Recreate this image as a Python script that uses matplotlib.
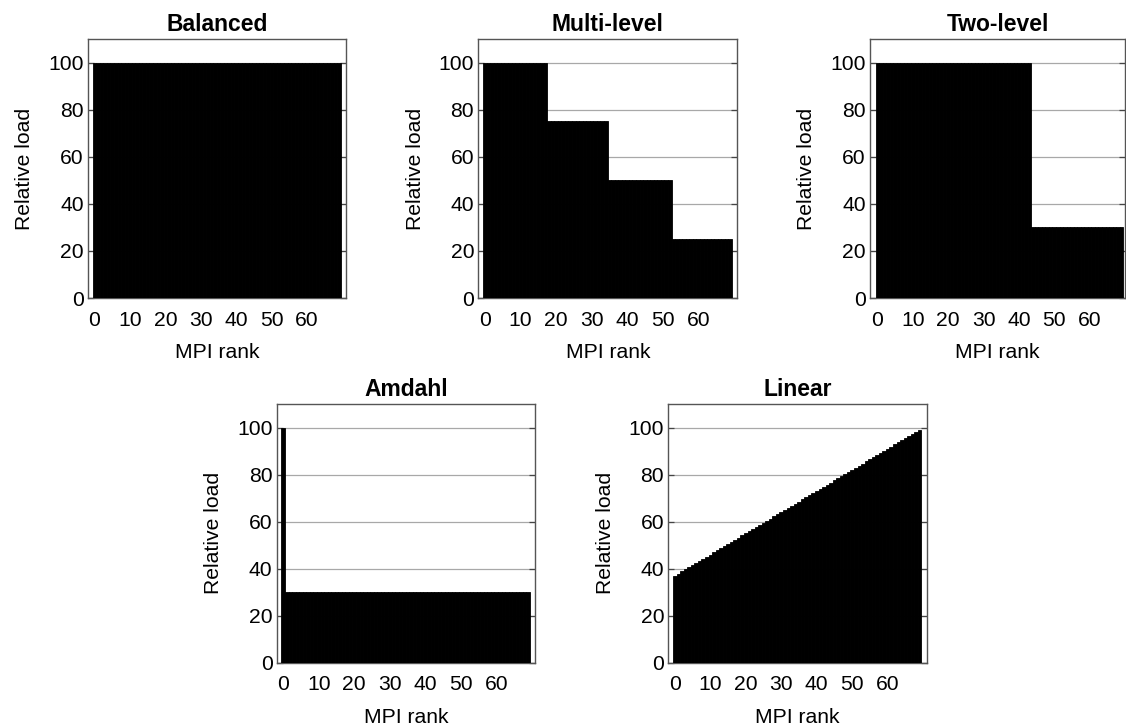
import matplotlib
matplotlib.use("Agg")
import matplotlib.pyplot as plt

plt.rcParams['font.family'] = ['Liberation Sans', 'DejaVu Sans']

ranks = list(range(70))

balanced = [100, 100, 100, 100, 100, 100, 100, 100, 100, 100,
            100, 100, 100, 100, 100, 100, 100, 100, 100, 100,
            100, 100, 100, 100, 100, 100, 100, 100, 100, 100,
            100, 100, 100, 100, 100, 100, 100, 100, 100, 100,
            100, 100, 100, 100, 100, 100, 100, 100, 100, 100,
            100, 100, 100, 100, 100, 100, 100, 100, 100, 100,
            100, 100, 100, 100, 100, 100, 100, 100, 100, 100]

multi_level = [100, 100, 100, 100, 100, 100, 100, 100, 100, 100,
               100, 100, 100, 100, 100, 100, 100, 100, 75, 75,
               75, 75, 75, 75, 75, 75, 75, 75, 75, 75,
               75, 75, 75, 75, 75, 50, 50, 50, 50, 50,
               50, 50, 50, 50, 50, 50, 50, 50, 50, 50,
               50, 50, 50, 25, 25, 25, 25, 25, 25, 25,
               25, 25, 25, 25, 25, 25, 25, 25, 25, 25]

two_level = [100, 100, 100, 100, 100, 100, 100, 100, 100, 100,
             100, 100, 100, 100, 100, 100, 100, 100, 100, 100,
             100, 100, 100, 100, 100, 100, 100, 100, 100, 100,
             100, 100, 100, 100, 100, 100, 100, 100, 100, 100,
             100, 100, 100, 100, 30, 30, 30, 30, 30, 30,
             30, 30, 30, 30, 30, 30, 30, 30, 30, 30,
             30, 30, 30, 30, 30, 30, 30, 30, 30, 30]

amdahl = [100, 30, 30, 30, 30, 30, 30, 30, 30, 30,
          30, 30, 30, 30, 30, 30, 30, 30, 30, 30,
          30, 30, 30, 30, 30, 30, 30, 30, 30, 30,
          30, 30, 30, 30, 30, 30, 30, 30, 30, 30,
          30, 30, 30, 30, 30, 30, 30, 30, 30, 30,
          30, 30, 30, 30, 30, 30, 30, 30, 30, 30,
          30, 30, 30, 30, 30, 30, 30, 30, 30, 30]

linear = [37.0, 37.9, 38.8, 39.7, 40.6, 41.5, 42.4, 43.3, 44.2, 45.1,
          46.0, 46.9, 47.8, 48.7, 49.6, 50.5, 51.4, 52.3, 53.2, 54.1,
          55.0, 55.9, 56.8, 57.7, 58.6, 59.5, 60.4, 61.3, 62.2, 63.1,
          64.0, 64.9, 65.8, 66.7, 67.6, 68.5, 69.4, 70.3, 71.2, 72.1,
          73.0, 73.9, 74.8, 75.7, 76.6, 77.5, 78.4, 79.3, 80.2, 81.1,
          82.0, 82.9, 83.8, 84.7, 85.6, 86.5, 87.4, 88.3, 89.2, 90.1,
          91.0, 91.9, 92.8, 93.7, 94.6, 95.5, 96.4, 97.3, 98.2, 99.1]

titles = ["Balanced", "Multi-level", "Two-level", "Amdahl", "Linear"]
series = [balanced, multi_level, two_level, amdahl, linear]
xticks = [0, 10, 20, 30, 40, 50, 60]
yticks = [0, 20, 40, 60, 80, 100]

W, H = 1126, 728
fig = plt.figure(figsize=(W / 100, H / 100), dpi=100)

# axes boxes in pixels: left, right, top, bottom
boxes = [(88, 346, 39, 298),
         (478.3, 737.3, 39, 298),
         (870, 1125, 39, 298),
         (276.7, 535.3, 404, 662.7),
         (668.3, 926.7, 404, 662.7)]
xlims = [(-1.85, 71.0), (-1.85, 71.0), (-2.1, 70.0), (-1.85, 71.0), (-1.85, 71.0)]

fs = 15.2
for title, vals, (l, r, t, b), xl in zip(titles, series, boxes, xlims):
    ax = fig.add_axes([l / W, (H - b) / H, (r - l) / W, (b - t) / H])
    ax.bar(ranks, vals, width=1.0, color='black', edgecolor='black',
           linewidth=0.6, zorder=3)
    ax.set_xlim(*xl)
    ax.set_ylim(0, 110)
    ax.set_xticks(xticks)
    ax.set_yticks(yticks)
    ax.yaxis.grid(True, color='#a8a8a8', linewidth=0.9, zorder=0)
    ax.set_axisbelow(True)
    ax.tick_params(axis='x', length=0, pad=9, labelsize=fs)
    ax.tick_params(axis='y', direction='in', length=4, width=0.9, color='#444444',
                   left=True, right=True, pad=3.0, labelsize=fs)
    for s in ax.spines.values():
        s.set_color('#555555')
        s.set_linewidth(1.0)
    ax.set_title(title, fontsize=16.5, fontweight='bold', pad=6)
    ax.set_xlabel("MPI rank", fontsize=fs, labelpad=10)
    ax.set_ylabel("Relative load", fontsize=fs, labelpad=10)

fig.savefig("out.png", dpi=100)
